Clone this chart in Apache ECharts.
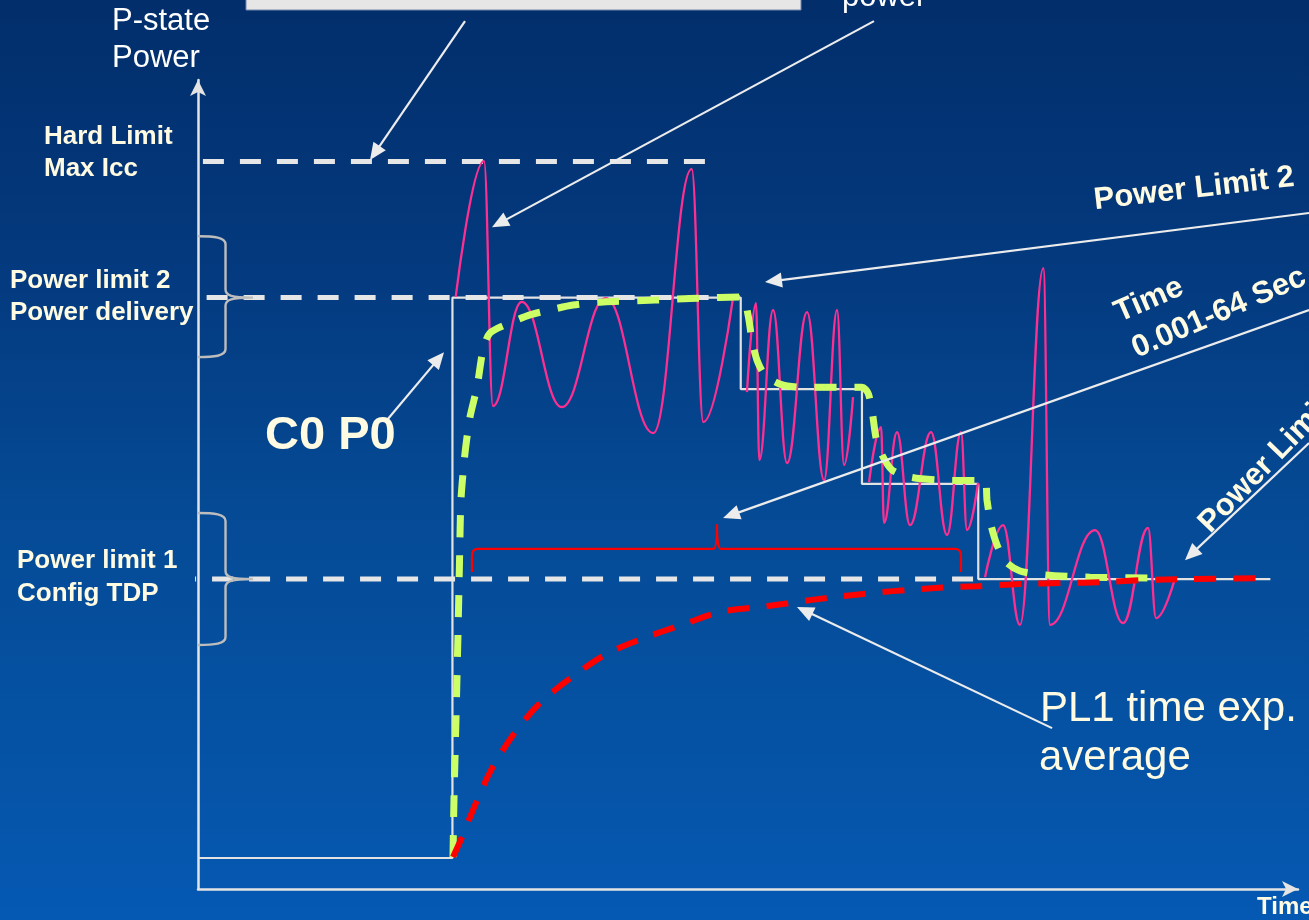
<!DOCTYPE html>
<html>
<head>
<meta charset="utf-8">
<title>Turbo power limits</title>
<script src="https://cdn.jsdelivr.net/npm/echarts@6/dist/echarts.min.js"></script>
<style>
  html, body { margin: 0; padding: 0; background: #033070; }
  #chart { width: 1309px; height: 920px; }
</style>
</head>
<body>
<div id="chart"></div>
<script>
// Time runs on an arbitrary 0..100 scale; power uses units where PL1 = 10.
const levelHardLimit = 23.47;
const levelPL2 = 19.08;
const levelPL1 = 10.0;

// Requested P-state power (white step trace)
const stateSteps = [
  [0, 1.0], [23.3, 1.0], [23.3, 19.08], [49.7, 19.08], [49.7, 16.13],
  [60.8, 16.13], [60.8, 13.07], [71.45, 13.07], [71.45, 10.0], [98.2, 10.0]
];

// Actual package power, four bursts
const powerBurst1 = [
  [23.6, 19.1], [26.19, 23.48], [27.01, 15.58], [29.64, 18.94], [33.31, 15.55],
  [37.34, 19.06], [41.69, 14.71], [45.21, 23.23], [46.27, 15.06], [48.96, 19.0]
];
const powerBurst2 = [
  [50.27, 16.03], [51.1, 18.9], [51.4, 13.84], [52.66, 18.68], [53.94, 13.74],
  [55.77, 18.61], [57.33, 13.19], [58.52, 18.68], [59.16, 13.68], [59.98, 15.87]
];
const powerBurst3 = [
  [61.45, 13.13], [62.55, 14.9], [62.82, 11.81], [64.01, 14.74], [65.2, 11.74],
  [67.12, 14.74], [68.59, 11.42], [69.87, 14.74], [70.42, 11.58], [71.43, 13.1]
];
const powerBurst4 = [
  [72.07, 10.06], [73.72, 11.74], [75.27, 8.52], [77.41, 20.03], [78.02, 8.52],
  [82.14, 11.58], [84.71, 8.58], [87.0, 11.65], [87.73, 8.74], [89.47, 10.03]
];

// Short-window running average (PL2 tracking)
const pl2Average = [
  [23.35, 1.03], [23.44, 2.87], [23.63, 5.55], [23.81, 8.26], [23.95, 10.61],
  [24.08, 12.55], [24.45, 14.06], [24.91, 15.23], [25.55, 16.19], [26.1, 17.39],
  [26.74, 17.94], [28.75, 18.29], [30.4, 18.52], [32.23, 18.68], [34.34, 18.84],
  [37.09, 18.94], [41.85, 19.0], [45.7, 19.06], [49.82, 19.1],
  [50.37, 18.52], [50.73, 17.71], [51.19, 17.06], [51.92, 16.58], [53.3, 16.29],
  [55.13, 16.19], [60.81, 16.19], [61.36, 16.0], [61.72, 15.45], [62.09, 14.55],
  [62.64, 14.0], [63.55, 13.52], [65.2, 13.29], [67.95, 13.19], [72.07, 13.16],
  [72.25, 12.55], [72.62, 11.74], [73.17, 11.1], [73.99, 10.55], [75.27, 10.26],
  [77.56, 10.13], [81.68, 10.06], [87.36, 10.03]
];

// PL1 exponentially weighted average
const pl1Average = [
  [23.35, 1.03], [24.18, 1.68], [25.18, 2.55], [26.74, 3.77], [28.85, 4.97],
  [31.32, 6.0], [34.25, 6.84], [37.55, 7.61], [41.12, 8.13], [44.78, 8.58],
  [47.8, 8.94], [52.2, 9.13], [56.04, 9.32], [59.8, 9.48], [63.64, 9.61],
  [67.49, 9.71], [71.34, 9.77], [75.27, 9.84], [79.12, 9.87], [82.97, 9.9],
  [86.72, 9.97], [90.57, 10.0], [98.17, 10.03]
];

// Limit reference lines
const hardLimitLine = [[0.45, levelHardLimit], [46.8, levelHardLimit]];
const pl2Line = [[-2.6, levelPL2], [49.6, levelPL2]];
const pl1Line = [[-2.1, levelPL1], [71.4, levelPL1]];

// Curly braces on the power axis: [centre, top, bottom]
const axisBraces = [[levelPL2, 21.06, 17.16], [levelPL1, 12.13, 7.87]];

// Time-window bracket: [start, end, middle, foot, bar, tip]
const timeWindow = [[25.09, 69.87, 47.53, 10.23, 10.97, 11.77]];

// Callout arrows: [fromX, fromY, toX, toY]
const callouts = [
  [24.45, 28.0, 15.75, 23.52],
  [61.9, 28.0, 26.92, 21.35],
  [101.74, 21.81, 51.92, 19.58],
  [101.74, 18.68, 48.08, 11.97],
  [101.74, 14.39, 90.38, 10.61],
  [17.31, 15.13, 22.53, 17.32],
  [78.21, 5.19, 54.85, 9.1]
];

const FONT = '"Liberation Sans", Arial, Helvetica, sans-serif';
const CREAM = '#fffbe3';
const WHITE = '#ffffff';

// Text labels: [text, x, y, size, weight, colour, rotationDeg, align]
const labels = [
  ['P-state', 112, 21, 31, 'normal', WHITE, 0, 'left'],
  ['Power', 112, 58, 31, 'normal', WHITE, 0, 'left'],
  ['power', 842, -3, 31, 'normal', WHITE, 0, 'left'],
  ['Hard Limit', 44, 137, 26, 'bold', CREAM, 0, 'left'],
  ['Max Icc', 44, 169, 26, 'bold', CREAM, 0, 'left'],
  ['Power limit 2', 10, 281, 26, 'bold', CREAM, 0, 'left'],
  ['Power delivery', 10, 313, 26, 'bold', CREAM, 0, 'left'],
  ['Power limit 1', 17, 561, 26, 'bold', CREAM, 0, 'left'],
  ['Config TDP', 17, 594, 26, 'bold', CREAM, 0, 'left'],
  ['C0 P0', 265, 436, 47, 'bold', CREAM, 0, 'left'],
  ['Power Limit 2', 1194, 189, 31, 'bold', CREAM, 6.7, 'center'],
  ['Time', 1149, 300, 31, 'bold', CREAM, 23.5, 'center'],
  ['0.001-64 Sec', 1219, 313, 31, 'bold', CREAM, 23.5, 'center'],
  ['Power Limit 1', 1204, 528, 31, 'bold', CREAM, 46, 'left'],
  ['PL1 time exp.', 1040, 709, 42, 'normal', CREAM, 0, 'left'],
  ['average', 1039, 758, 42, 'normal', CREAM, 0, 'left'],
  ['Time', 1257, 907, 24, 'bold', CREAM, 0, 'left']
];

function lineSeries(data, color, width, dash, z, extra) {
  return Object.assign({
    type: 'line', data: data, symbol: 'none', silent: true, clip: false,
    animation: false, z: z,
    lineStyle: { color: color, width: width, type: dash || 'solid', cap: 'butt' }
  }, extra || {});
}

function renderBrace(params, api) {
  const yc = api.value(0), yt = api.value(1), yb = api.value(2);
  const top = api.coord([0, yt]);
  const bot = api.coord([0, yb]);
  const mid = api.coord([2.52, yc]);
  const tip = api.coord([5.04, yc]);
  const x0 = top[0], xs = mid[0], xt = tip[0];
  const t = top[1], b = bot[1], c = mid[1];
  const d = [
    'M', x0, t, 'C', x0 + 16, t, xs, t + 1, xs, t + 8,
    'L', xs, c - 8, 'C', xs, c - 2, xs + 6, c, xt, c,
    'M', xt, c, 'C', xs + 6, c, xs, c + 2, xs, c + 8,
    'L', xs, b - 8, 'C', xs, b - 1, x0 + 16, b, x0, b
  ].join(' ');
  return { type: 'path', shape: { pathData: d },
    style: { stroke: '#bdbdbd', fill: null, lineWidth: 2.4 } };
}

function renderWindow(params, api) {
  const l = api.coord([api.value(0), api.value(3)]);
  const r = api.coord([api.value(1), api.value(3)]);
  const m = api.coord([api.value(2), api.value(4)]);
  const tp = api.coord([api.value(2), api.value(5)]);
  const xl = l[0], xr = r[0], xm = m[0], yb = l[1], yl = m[1], yt = tp[1];
  const d = [
    'M', xl, yb, 'L', xl, yl + 7, 'Q', xl, yl, xl + 6, yl,
    'L', xm - 4, yl, 'Q', xm, yl, xm, yt,
    'Q', xm, yl, xm + 4, yl,
    'L', xr - 6, yl, 'Q', xr, yl, xr, yl + 7, 'L', xr, yb
  ].join(' ');
  return { type: 'path', shape: { pathData: d },
    style: { stroke: '#ff0000', fill: null, lineWidth: 2.2 } };
}

function renderArrow(params, api) {
  const a = api.coord([api.value(0), api.value(1)]);
  const b = api.coord([api.value(2), api.value(3)]);
  const dx = b[0] - a[0], dy = b[1] - a[1];
  const len = Math.sqrt(dx * dx + dy * dy);
  const ux = dx / len, uy = dy / len;
  const L = 17, W = 15;
  const bx = b[0] - ux * L, by = b[1] - uy * L;
  return { type: 'group', children: [
    { type: 'line', shape: { x1: a[0], y1: a[1], x2: bx + ux, y2: by + uy },
      style: { stroke: '#ececec', lineWidth: 2.2 } },
    { type: 'polygon', shape: { points: [[b[0], b[1]],
        [bx - uy * W / 2, by + ux * W / 2], [bx + uy * W / 2, by - ux * W / 2]] },
      style: { fill: '#ececec' } }
  ] };
}

const chart = echarts.init(document.getElementById('chart'), null, { renderer: 'canvas' });

const graphicEls = [
  { type: 'rect', shape: { x: 246, y: -12, width: 555, height: 22 },
    style: { fill: '#e6e6e6', stroke: '#7486ad', lineWidth: 1 }, z: 50 }
];
labels.forEach(function (lb) {
  graphicEls.push({
    type: 'text', x: lb[1], y: lb[2], rotation: lb[6] * Math.PI / 180, z: 60,
    style: { text: lb[0], fill: lb[5], fontSize: lb[3], fontWeight: lb[4],
      fontFamily: FONT, align: lb[7], verticalAlign: 'middle' }
  });
});

const axisStyle = { color: '#e4e4e4', width: 2.5 };

chart.setOption({
  animation: false,
  backgroundColor: {
    type: 'linear', x: 0, y: 0, x2: 0, y2: 1,
    colorStops: [
      { offset: 0, color: '#022e6b' },
      { offset: 0.3, color: '#043a7f' },
      { offset: 0.55, color: '#054a95' },
      { offset: 0.8, color: '#0552a4' },
      { offset: 1, color: '#0559b3' }
    ]
  },
  grid: { left: 198, right: 11, top: 80, bottom: 31, containLabel: false },
  xAxis: {
    type: 'value', min: 0, max: 100.73,
    axisLine: { show: true, onZero: false, symbol: ['none', 'arrow'], symbolSize: [12, 16], lineStyle: axisStyle },
    axisTick: { show: false }, axisLabel: { show: false }, splitLine: { show: false }
  },
  yAxis: {
    type: 'value', min: 0, max: 26.1,
    axisLine: { show: true, onZero: false, symbol: ['none', 'arrow'], symbolSize: [12, 16], lineStyle: axisStyle },
    axisTick: { show: false }, axisLabel: { show: false }, splitLine: { show: false }
  },
  graphic: { elements: graphicEls },
  series: [
    lineSeries(stateSteps, '#e2e2e2', 2.2, 'solid', 2),
    lineSeries(hardLimitLine, '#e6e6e6', 5, [21, 16], 3),
    lineSeries(pl2Line, '#e6e6e6', 5, [21, 16], 3),
    lineSeries(pl1Line, '#e6e6e6', 5, [21, 16], 3),
    lineSeries(powerBurst1, '#ff2f92', 2.3, 'solid', 4, { smooth: 0.42, smoothMonotone: 'x' }),
    lineSeries(powerBurst2, '#ff2f92', 2.3, 'solid', 4, { smooth: 0.42, smoothMonotone: 'x' }),
    lineSeries(powerBurst3, '#ff2f92', 2.3, 'solid', 4, { smooth: 0.42, smoothMonotone: 'x' }),
    lineSeries(powerBurst4, '#ff2f92', 2.3, 'solid', 4, { smooth: 0.42, smoothMonotone: 'x' }),
    lineSeries(pl2Average, '#ccff66', 7, [22, 18], 5, { smooth: 0.25 }),
    lineSeries(pl1Average, '#ff0000', 6, [22, 17], 6, { smooth: 0.3 }),
    { type: 'custom', data: axisBraces, renderItem: renderBrace, clip: false, silent: true, z: 7 },
    { type: 'custom', data: timeWindow, renderItem: renderWindow, clip: false, silent: true, z: 7 },
    { type: 'custom', data: callouts, renderItem: renderArrow, clip: false, silent: true, z: 8 }
  ]
});
</script>
</body>
</html>
